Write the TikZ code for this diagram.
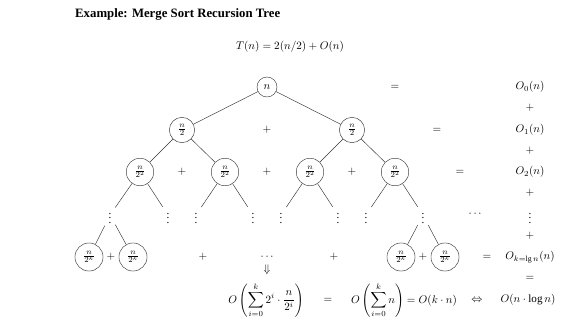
\documentclass[tikz,border=0pt]{standalone}
\usepackage{amsmath}
\usepackage{amssymb}
\usepackage{fontspec}
\setmainfont{Liberation Serif}

\begin{document}
\begin{tikzpicture}[x=0.9pt, y=-0.9pt,
    subprob/.style={draw, circle, thin, black!80, text=black, inner sep=3.6pt, minimum size=18pt},
    edge/.style={thin, black!80}]
    \useasboundingbox (0,0) rectangle (572,323);

    % Title and recurrence
    \node[font=\bfseries\fontsize{11.5}{14}\selectfont, anchor=west, inner sep=0pt] (title) at (75,14) {Example: Merge Sort Recursion Tree};
    \node (rec) at (290,47) {$T(n) = 2(n/2) + O(n)$};

    % Level 0
    \node[subprob] (r) at (267,87) {$n$};
    \node (eq0) at (395,87) {$=$};
    \node (c0) at (530,87) {$O_0(n)$};
    \node (p0) at (530,108) {$+$};

    % Level 1
    \node[subprob] (a) at (182,130) {$\frac{n}{2}$};
    \node (pa) at (267,130) {$+$};
    \node[subprob] (b) at (352,130) {$\frac{n}{2}$};
    \node (eq1) at (437,130) {$=$};
    \node (c1) at (530,130) {$O_1(n)$};
    \node (p1) at (530,151) {$+$};

    % Level 2
    \node[subprob] (aa) at (140,172) {$\frac{n}{2^2}$};
    \node (paa) at (182,172) {$+$};
    \node[subprob] (ab) at (225,172) {$\frac{n}{2^2}$};
    \node (pab) at (267,172) {$+$};
    \node[subprob] (ba) at (310,172) {$\frac{n}{2^2}$};
    \node (pba) at (352,172) {$+$};
    \node[subprob] (bb) at (395,172) {$\frac{n}{2^2}$};
    \node (eq2) at (460,172) {$=$};
    \node (c2) at (530,172) {$O_2(n)$};
    \node (p2) at (530,193) {$+$};

    % Intermediate levels
    \node (aa1) at (110,215) {$\vdots$};
    \node (aa2) at (168,215) {$\vdots$};
    \node (ab1) at (196,215) {$\vdots$};
    \node (ab2) at (253,215) {$\vdots$};
    \node (ba1) at (281,215) {$\vdots$};
    \node (ba2) at (338,215) {$\vdots$};
    \node (bb1) at (366,215) {$\vdots$};
    \node (bb2) at (423,215) {$\vdots$};
    \node (hd) at (476,214) {$\cdots$};
    \node (cd) at (530,215) {$\vdots$};
    \node (pd) at (530,236) {$+$};

    % Level k
    \node[subprob] (k1) at (89,257) {$\frac{n}{2^k}$};
    \node (pk1) at (111,257) {$+$};
    \node[subprob] (k2) at (133,257) {$\frac{n}{2^k}$};
    \node (pk2) at (203,257) {$+$};
    \node (kd) at (268,257) {$\cdots$};
    \node (pk3) at (334,257) {$+$};
    \node[subprob] (k3) at (401,257) {$\frac{n}{2^k}$};
    \node (pk4) at (423,257) {$+$};
    \node[subprob] (k4) at (445,257) {$\frac{n}{2^k}$};
    \node (eqk) at (487,257) {$=$};
    \node (ck) at (530,257) {$O_{k=\lg n}(n)$};
    \node (eqc) at (530,278) {$=$};

    % Total cost
    \node (down) at (267,270) {$\Downarrow$};
    \node (sum1) at (266,300) {$\displaystyle O\left(\sum_{i=0}^{k} 2^i\cdot\frac{n}{2^i}\right)$};
    \node (eqs) at (328,300) {$=$};
    \node (sum2) at (404,300) {$\displaystyle O\left(\sum_{i=0}^{k} n\right) = O(k\cdot n)$};
    \node (iff) at (477,300) {$\Leftrightarrow$};
    \node (total) at (528,300) {$O(n\cdot\log n)$};

    % Tree edges
    \draw[edge] (r) -- (a);
    \draw[edge] (r) -- (b);
    \draw[edge] (a) -- (aa);
    \draw[edge] (a) -- (ab);
    \draw[edge] (b) -- (ba);
    \draw[edge] (b) -- (bb);
    \draw[edge] (aa) -- (aa1);
    \draw[edge] (aa) -- (aa2);
    \draw[edge] (ab) -- (ab1);
    \draw[edge] (ab) -- (ab2);
    \draw[edge] (ba) -- (ba1);
    \draw[edge] (ba) -- (ba2);
    \draw[edge] (bb) -- (bb1);
    \draw[edge] (bb) -- (bb2);
    \draw[edge] (aa1) -- (k1);
    \draw[edge] (aa1) -- (k2);
    \draw[edge] (bb2) -- (k3);
    \draw[edge] (bb2) -- (k4);
\end{tikzpicture}
\end{document}
